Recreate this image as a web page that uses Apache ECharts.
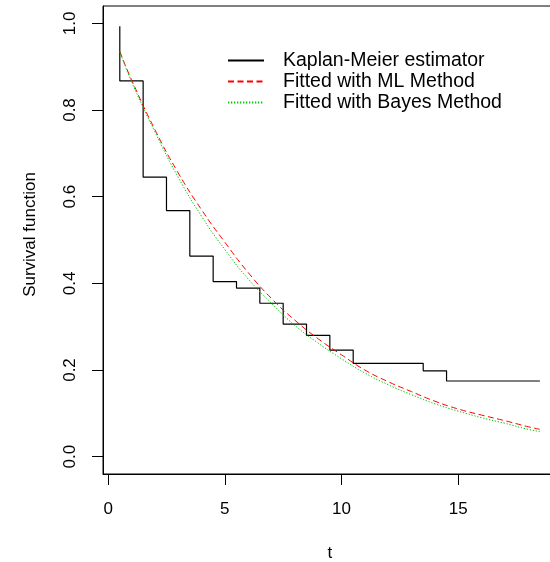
<!DOCTYPE html>
<html>
<head>
<meta charset="utf-8">
<script src="https://cdn.jsdelivr.net/npm/echarts@6/dist/echarts.min.js"></script>
<style>
  html, body { margin: 0; padding: 0; background: #fff; overflow: hidden; }
  #chart { width: 550px; height: 562px; }
</style>
</head>
<body>
<div id="chart"></div>
<script>
// Kaplan-Meier step estimate (time of each drop, survival after it)
const kmTime = [0.5, 0.5, 1.5, 2.5, 3.5, 4.5, 5.5, 6.5, 7.5, 8.5, 9.5, 10.5, 13.5, 14.5, 18.5];
const kmSurv = [0.993, 0.867, 0.645, 0.568, 0.463, 0.404, 0.389, 0.354, 0.306, 0.280, 0.246, 0.2155, 0.198, 0.1746, 0.1746];

// Fitted survival curves
const fitTime = [0.5, 1, 2, 3, 4, 5, 6, 7, 8, 9, 10, 11, 12, 13, 14, 15, 16, 17, 18, 18.5];
const mlSurv = [0.935, 0.87, 0.755, 0.655, 0.57, 0.495, 0.425, 0.365, 0.315, 0.272, 0.235, 0.200, 0.173, 0.150, 0.128, 0.110, 0.096, 0.083, 0.069, 0.063];
const bayesSurv = [0.935, 0.866, 0.75, 0.645, 0.555, 0.478, 0.41, 0.354, 0.303, 0.262, 0.226, 0.193, 0.166, 0.143, 0.122, 0.105, 0.090, 0.077, 0.063, 0.058];

// Axis ticks
const xTicks = [0, 5, 10, 15];
const yTicks = [0, 0.2, 0.4, 0.6, 0.8, 1.0];
const yTickLabels = ['0.0', '0.2', '0.4', '0.6', '0.8', '1.0'];

const seriesNames = ['Kaplan-Meier estimator', 'Fitted with ML Method', 'Fitted with Bayes Method'];

const FONT = '"Liberation Sans", Arial, sans-serif';
const zip = (xs, ys) => xs.map((x, i) => [x, ys[i]]);

// The plot box runs a few pixels past the right edge of the canvas.
const chart = echarts.init(document.getElementById('chart'), null, { renderer: 'canvas' });
chart.setOption({
  animation: false,
  backgroundColor: '#ffffff',
  grid: {
    left: 103, top: 6, right: -6.7, bottom: 88,
    outerBoundsMode: 'none', containLabel: false,
    show: true, borderColor: '#000', borderWidth: 1, backgroundColor: 'transparent'
  },
  xAxis: {
    type: 'value', min: -0.22, max: 19.22,
    name: 't', nameLocation: 'middle', nameGap: 71,
    nameTextStyle: { fontFamily: FONT, fontSize: 17, color: '#000' },
    axisLine: { show: true, onZero: false, lineStyle: { color: '#000', width: 1 } },
    axisTick: { show: true, inside: false, length: 11, customValues: xTicks, lineStyle: { color: '#000' } },
    axisLabel: { customValues: xTicks, margin: 27, fontFamily: FONT, fontSize: 17, color: '#000' },
    splitLine: { show: false }
  },
  yAxis: {
    type: 'value', min: -0.04, max: 1.04,
    name: 'Survival function', nameLocation: 'middle', nameGap: 64, nameRotate: 90,
    nameTextStyle: { fontFamily: FONT, fontSize: 17, color: '#000', padding: [0, 0, 0, 11] },
    axisLine: { show: true, onZero: false, lineStyle: { color: '#000', width: 1 } },
    axisTick: { show: true, inside: false, length: 11, customValues: yTicks, lineStyle: { color: '#000' } },
    axisLabel: {
      customValues: yTicks, margin: 24, rotate: 90,
      fontFamily: FONT, fontSize: 17, color: '#000',
      formatter: v => yTickLabels[yTicks.findIndex(t => Math.abs(t - v) < 1e-9)]
    },
    splitLine: { show: false }
  },
  legend: {
    orient: 'vertical', left: 227, top: 50, padding: 0,
    itemWidth: 36, itemHeight: 14, itemGap: 0,
    itemStyle: { opacity: 0 },
    data: seriesNames,
    textStyle: { fontFamily: FONT, fontSize: 19.5, color: '#000', lineHeight: 21, padding: [0, 0, 0, 14] }
  },
  series: [
    {
      name: seriesNames[0], type: 'line', step: 'end', symbol: 'none',
      data: zip(kmTime, kmSurv),
      lineStyle: { color: '#000', width: 1.2, type: 'solid' },
      itemStyle: { color: '#000' }
    },
    {
      name: seriesNames[1], type: 'line', smooth: true, symbol: 'none',
      data: zip(fitTime, mlSurv),
      lineStyle: { color: '#ff0000', width: 1, type: [6, 3.5] },
      itemStyle: { color: '#ff0000' }
    },
    {
      name: seriesNames[2], type: 'line', smooth: true, symbol: 'none',
      data: zip(fitTime, bayesSurv),
      lineStyle: { color: '#00cc00', width: 1, type: [1.3, 1.7] },
      itemStyle: { color: '#00cc00' }
    }
  ]
});
</script>
</body>
</html>
